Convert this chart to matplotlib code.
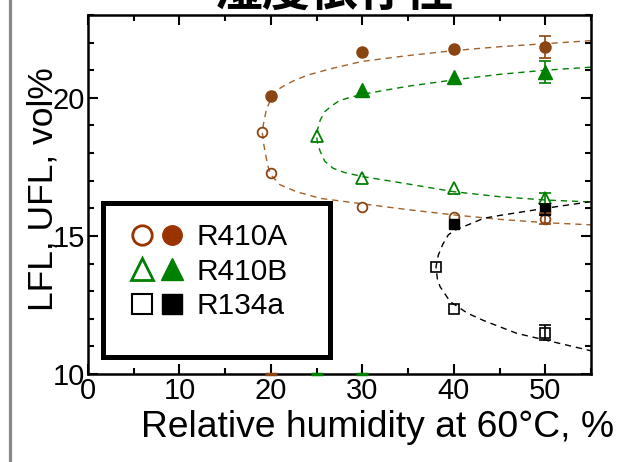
import matplotlib
matplotlib.use("Agg")
import matplotlib.pyplot as plt
from matplotlib.lines import Line2D
from matplotlib.patches import Rectangle
from matplotlib.legend_handler import HandlerTuple

plt.rcParams['font.family'] = ['Liberation Sans', 'Noto Sans CJK JP', 'DejaVu Sans']

# data
# R410A
a_open_x = [19, 20, 30, 40, 50]
a_open_y = [18.77, 17.27, 16.06, 15.69, 15.62]
a_fill_x = [20, 30, 40, 50]
a_fill_y = [20.05, 21.66, 21.77, 21.85]
# R410B
b_open_x = [25, 30, 40, 50]
b_open_y = [18.62, 17.08, 16.74, 16.37]
b_fill_x = [30, 40, 50]
b_fill_y = [20.29, 20.75, 20.95]
# R134a
c_open_x = [38, 40, 50]
c_open_y = [13.86, 12.35, 11.5]
c_fill_x = [40, 50]
c_fill_y = [15.43, 15.94]

# error bars at 50 %
err_x = 50
a_err = {'open': (15.62, 0.2), 'fill': (21.85, 0.4)}
b_err = {'open': (16.37, 0.2), 'fill': (20.95, 0.4)}
c_err = {'open': (11.5, 0.28), 'fill': (15.94, 0.2)}

# fitted dashed curves
a_curve_x = [55, 50, 45, 40, 35, 30, 26.5, 24, 22.5, 21.4, 20.3, 19.5, 19.2, 19.05,
             19.25, 19.6, 19.9, 21.0, 22.8, 25.4, 30, 35, 40, 45, 50, 55]
a_curve_y = [22.07, 21.96, 21.85, 21.71, 21.53, 21.32, 21.05, 20.82, 20.62, 20.43, 20.2,
             19.57, 19.08, 18.76, 18.25, 17.64, 17.25, 16.85, 16.6, 16.36, 16.16, 15.95,
             15.76, 15.6, 15.48, 15.4]
b_curve_x = [55, 50, 45, 40, 35, 30, 28.5, 27.5, 26.6, 25.9, 25.4, 25.1, 25.0, 25.1,
             25.4, 25.9, 26.8, 28, 30, 35, 40, 45, 50, 55]
b_curve_y = [21.11, 21.0, 20.85, 20.65, 20.42, 20.13, 20.0, 19.9, 19.7, 19.5, 19.2, 18.85,
             18.6, 18.35, 18.05, 17.7, 17.45, 17.3, 17.15, 16.88, 16.6, 16.42, 16.3, 16.23]
c_curve_x = [55, 50, 45, 43.3, 41.1, 40.2, 39.4, 38.8, 38.3, 38.05, 38.2, 38.5, 39.6,
             41.5, 43.3, 46.9, 50, 55]
c_curve_y = [16.24, 16.0, 15.74, 15.64, 15.34, 15.22, 15.04, 14.7, 14.3, 13.88, 13.45,
             13.16, 12.62, 12.2, 11.93, 11.47, 11.23, 10.84]

# small clipped marks sitting on the x axis
axis_mark_x = [20, 25, 30]
axis_mark_c = ['#8B4513', '#008000', '#008000']

labels = ['R410A', 'R410B', 'R134a']

brown = '#8B4513'
brown_line = '#A0622D'
green = '#008000'

fig = plt.figure(figsize=(6.35, 4.62), dpi=100)
ax = fig.add_axes([0.1386, 0.1905, 0.7921, 0.7771])

for cx, cy, col in [(a_curve_x, a_curve_y, brown_line), (b_curve_x, b_curve_y, green),
                    (c_curve_x, c_curve_y, 'black')]:
    ln, = ax.plot(cx, cy, color=col, lw=1.0, zorder=2)
    ln.set_dashes((4.5, 3.5))

ax.plot(a_open_x, a_open_y, 'o', ms=7, mfc='none', mec=brown, mew=1.3, zorder=3)
ax.plot(a_fill_x, a_fill_y, 'o', ms=8, color=brown, zorder=3)
ax.plot(b_open_x, b_open_y, '^', ms=8.5, mfc='none', mec=green, mew=1.3, zorder=3)
ax.plot(b_fill_x, b_fill_y, '^', ms=10, color=green, zorder=3)
ax.plot(c_open_x, c_open_y, 's', ms=6.5, mfc='none', mec='black', mew=1.2, zorder=3)
ax.plot(c_fill_x, c_fill_y, 's', ms=6.5, color='black', zorder=3)

for errs, col in [(a_err, brown), (b_err, green), (c_err, 'black')]:
    for key in errs:
        y, e = errs[key]
        ax.errorbar([err_x], [y], yerr=[e], fmt='none', ecolor=col, elinewidth=1.2,
                    capsize=4.5, capthick=1.2, zorder=3)

for mx, mc in zip(axis_mark_x, axis_mark_c):
    ax.plot([mx], [10], '_', ms=9, mew=2.5, color=mc, clip_on=False, zorder=4)

ax.set_xlim(0, 55)
ax.set_ylim(10, 23)
ax.set_xticks([0, 10, 20, 30, 40, 50])
ax.set_xticks([5, 15, 25, 35, 45, 55], minor=True)
ax.set_yticks([10, 15, 20])
ax.set_yticks([11, 12, 13, 14, 16, 17, 18, 19, 21, 22, 23], minor=True)
ax.tick_params(which='both', direction='in', top=True, right=True, width=1.5,
               labelsize=21, pad=2)
ax.tick_params(which='major', length=7)
ax.tick_params(which='minor', length=4.5)
for s in ax.spines.values():
    s.set_linewidth(1.8)

ax.set_xlabel('Relative humidity at 60°C, %', fontsize=26.8)
ax.xaxis.set_label_coords(0.575, -0.1)
ax.set_ylabel('LFL, UFL, vol%', fontsize=25.5)
ax.yaxis.set_label_coords(-0.057, 0.515)

# legend box
ax.add_patch(Rectangle((0.030, 0.047), 0.451, 0.429, transform=ax.transAxes,
                       facecolor='white', edgecolor='black', lw=3.6, zorder=5))
handles = [
    (Line2D([], [], ls='none', marker='o', ms=14, mfc='none', mec='#993300', mew=2),
     Line2D([], [], ls='none', marker='o', ms=14, color='#993300')),
    (Line2D([], [], ls='none', marker='^', ms=16, mfc='none', mec=green, mew=2),
     Line2D([], [], ls='none', marker='^', ms=16, color=green)),
    (Line2D([], [], ls='none', marker='s', ms=14, mfc='none', mec='black', mew=1.5),
     Line2D([], [], ls='none', marker='s', ms=14, color='black')),
]
leg = ax.legend(handles, labels, loc='upper left', bbox_to_anchor=(0.085, 0.42),
                frameon=False, fontsize=21.5, handlelength=1.75, handletextpad=0.45,
                labelspacing=0.22, borderpad=0, borderaxespad=0,
                handler_map={tuple: HandlerTuple(ndivide=None, pad=0.3)})
leg.set_zorder(6)

fig.text(0.527, 1 - 6 / 462, '湿度依存性', fontsize=34.5, fontweight='bold',
         family=['Noto Sans CJK JP'], ha='center', va='baseline')

fig.add_artist(Line2D([0.0157, 0.0157], [0, 1], transform=fig.transFigure,
                      color='#888888', lw=2.3))

fig.savefig('out.png', dpi=100)
